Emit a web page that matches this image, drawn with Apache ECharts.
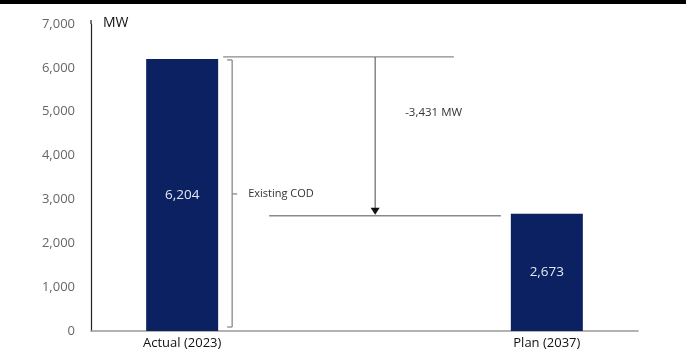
<!DOCTYPE html>
<html><head><meta charset="utf-8">
<script src="https://cdn.jsdelivr.net/npm/echarts@6/dist/echarts.min.js"></script>
<style>html,body{margin:0;padding:0;background:#fff}#c{width:686px;height:356px}</style>
</head><body><div id="c"></div>
<script>
const categories = ['Actual (2023)', '', 'Plan (2037)'];
const values = [6204, null, 2673];
const yTicks = [0, 1000, 2000, 3000, 4000, 5000, 6000, 7000];
const unitLabel = 'MW';
const deltaLabel = '-3,431 MW';
const bracketLabel = 'Existing COD';

const chart = echarts.init(document.getElementById('c'), null, {renderer: 'canvas'});
const fmt = v => v.toLocaleString('en-US');
const option = {
  animation: false,
  grid: {left: 91, right: 48, top: 24, bottom: 25},
  xAxis: {
    type: 'category', data: categories,
    axisLine: {show: true, lineStyle: {color: '#9a9a9a', width: 1.5}},
    axisTick: {show: false},
    axisLabel: {color: '#111', fontFamily: 'Open Sans', fontSize: 13, margin: 6}
  },
  yAxis: {
    type: 'value', min: yTicks[0], max: yTicks[yTicks.length - 1], interval: 1000,
    axisLine: {show: true, lineStyle: {color: '#222', width: 1.2}},
    axisTick: {show: false}, splitLine: {show: false},
    axisLabel: {color: '#666', fontFamily: 'Open Sans', fontSize: 13, margin: 16, formatter: v => fmt(v)}
  },
  series: [{
    type: 'bar', data: values, barWidth: 72,
    itemStyle: {color: '#0b2161'},
    label: {show: true, position: 'inside', color: '#e6e8f0', fontFamily: 'Open Sans', fontSize: 13.5,
      formatter: p => fmt(p.value)}
  }]
};
chart.setOption(option);

const c1 = chart.convertToPixel({xAxisIndex: 0}, categories[0]);
const c3 = chart.convertToPixel({xAxisIndex: 0}, categories[2]);
const yTop = chart.convertToPixel({yAxisIndex: 0}, values[0]) - 2;
const yBot = chart.convertToPixel({yAxisIndex: 0}, values[2]) + 2;
const y0 = chart.convertToPixel({yAxisIndex: 0}, 0);
const yAxisTop = chart.convertToPixel({yAxisIndex: 0}, yTicks[yTicks.length - 1]);
const gray = '#8a8a8a';
const bx = c1 + 50;
const ax = c1 + 193;
const ln = (x1, y1, x2, y2, color, w) => ({type: 'line', shape: {x1, y1, x2, y2}, style: {stroke: color || gray, lineWidth: w || 1.3}, silent: true});
chart.setOption({
  graphic: [
    {type: 'rect', shape: {x: 0, y: 0, width: 686, height: 4}, style: {fill: '#000'}},
    ln(91, yAxisTop - 4, 91, yAxisTop, '#222', 1.2),
    {type: 'text', x: 103, y: yAxisTop - 1, style: {text: unitLabel, fill: '#111', font: '14px "Open Sans"', textVerticalAlign: 'middle'}},
    ln(c1 + 41, yTop, c3 - 93, yTop),
    ln(c1 + 87, yBot, c3 - 46, yBot),
    ln(bx - 5, yTop + 3, bx, yTop + 3),
    ln(bx, yTop + 3, bx, y0 - 4),
    ln(bx - 5, y0 - 4, bx, y0 - 4),
    ln(bx, (yTop + y0) / 2, bx + 5, (yTop + y0) / 2),
    {type: 'text', x: bx + 16, y: (yTop + y0) / 2, style: {text: bracketLabel, fill: '#333', font: '11px "Open Sans"', textVerticalAlign: 'middle'}},
    ln(ax, yTop, ax, yBot - 7, '#666', 1.2),
    {type: 'polygon', shape: {points: [[ax - 4.5, yBot - 8], [ax + 4.5, yBot - 8], [ax, yBot - 1]]}, style: {fill: '#111'}},
    {type: 'text', x: ax + 30, y: 113, style: {text: deltaLabel, fill: '#333', font: '11.5px "Open Sans"', textVerticalAlign: 'middle'}}
  ]
});
</script></body></html>
